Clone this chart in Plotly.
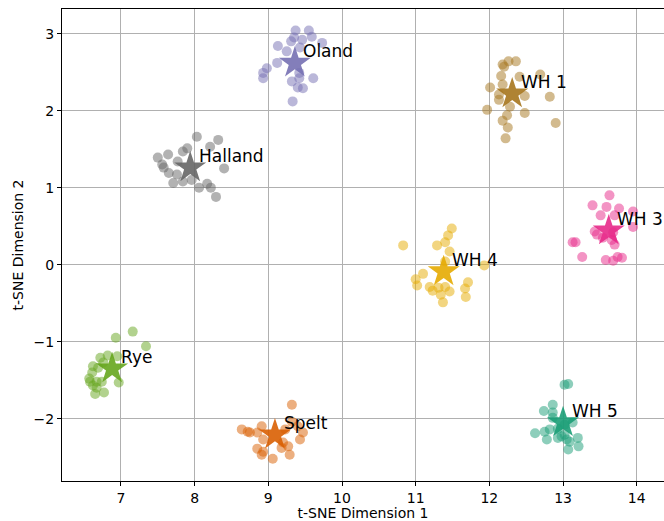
import plotly.graph_objects as go

groups = ["Oland", "WH 1", "Halland", "WH 3", "WH 4", "Rye", "Spelt", "WH 5"]
colors = ["#7570b3", "#a6761d", "#666666", "#e7298a", "#e6ab02", "#66a61e", "#d95f02", "#1b9e77"]

oland_x = [9.37, 9.55, 9.35, 9.46, 9.59, 9.31, 9.73, 9.13, 9.25, 9.43, 9.12, 8.98, 8.93, 8.93, 9.32, 9.42, 9.61, 9.40, 9.47, 9.33, 9.42]
oland_y = [3.04, 3.04, 2.95, 2.92, 2.96, 2.90, 2.88, 2.84, 2.77, 2.82, 2.62, 2.55, 2.49, 2.42, 2.38, 2.42, 2.42, 2.30, 2.29, 2.12, 2.49]

wh1_x = [12.18, 12.26, 12.36, 12.20, 12.16, 12.41, 12.69, 12.18, 12.01, 12.13, 12.13, 12.48, 12.82, 12.28, 11.97, 12.48, 12.24, 12.18, 12.90, 12.25, 12.22]
wh1_y = [2.60, 2.64, 2.64, 2.57, 2.45, 2.44, 2.47, 2.34, 2.30, 2.21, 2.14, 2.19, 2.18, 2.05, 2.01, 1.97, 1.94, 1.87, 1.84, 1.78, 1.64]

halland_x = [8.03, 8.32, 8.21, 7.90, 7.84, 7.64, 7.50, 7.77, 7.56, 7.58, 8.40, 7.65, 7.76, 7.71, 7.84, 7.96, 8.06, 8.17, 8.22, 8.29]
halland_y = [1.66, 1.62, 1.53, 1.51, 1.47, 1.43, 1.39, 1.34, 1.30, 1.26, 1.25, 1.19, 1.17, 1.06, 1.08, 1.10, 1.00, 1.05, 1.00, 0.88]

wh3_x = [13.63, 13.40, 13.59, 13.76, 13.51, 13.70, 13.95, 13.95, 13.43, 13.46, 13.54, 13.68, 13.66, 13.13, 13.17, 13.70, 13.26, 13.58, 13.68, 13.74, 13.80]
wh3_y = [0.90, 0.77, 0.75, 0.73, 0.64, 0.64, 0.69, 0.49, 0.43, 0.39, 0.35, 0.42, 0.32, 0.29, 0.29, 0.26, 0.10, 0.06, 0.05, 0.10, 0.09]

wh4_x = [11.49, 11.44, 11.40, 11.29, 10.83, 11.46, 11.40, 11.93, 11.10, 11.00, 11.02, 11.19, 11.23, 11.31, 11.40, 11.34, 11.46, 11.71, 11.67, 11.68, 11.37]
wh4_y = [0.47, 0.38, 0.29, 0.25, 0.25, 0.17, 0.04, -0.01, -0.12, -0.19, -0.27, -0.29, -0.34, -0.30, -0.29, -0.39, -0.35, -0.23, -0.31, -0.42, -0.49]

rye_x = [7.16, 6.93, 7.34, 6.95, 6.82, 6.72, 6.76, 6.62, 6.69, 6.61, 6.58, 6.67, 6.74, 6.97, 6.62, 6.67, 6.77, 6.65, 6.57]
rye_y = [-0.87, -0.95, -1.06, -1.19, -1.18, -1.21, -1.27, -1.32, -1.34, -1.40, -1.52, -1.52, -1.52, -1.53, -1.57, -1.60, -1.66, -1.68, -1.48]

spelt_x = [9.32, 9.32, 9.40, 8.64, 8.72, 8.75, 8.85, 8.91, 9.23, 9.47, 8.93, 9.43, 9.20, 9.27, 9.18, 8.85, 8.93, 8.91, 9.29, 9.06]
spelt_y = [-1.82, -2.04, -2.10, -2.14, -2.17, -2.18, -2.18, -2.10, -2.14, -2.18, -2.27, -2.27, -2.31, -2.36, -2.38, -2.39, -2.43, -2.47, -2.47, -2.52]

wh5_x = [13.02, 13.07, 12.86, 12.74, 12.86, 12.86, 13.13, 13.02, 12.62, 12.75, 12.82, 12.93, 12.78, 12.93, 13.02, 13.05, 13.09, 13.20, 13.21, 13.07, 12.98]
wh5_y = [-1.56, -1.55, -1.82, -1.90, -1.92, -1.99, -2.05, -2.08, -2.19, -2.17, -2.14, -2.13, -2.27, -2.25, -2.21, -2.27, -2.30, -2.25, -2.36, -2.40, -2.23]

centroid_x = [9.36, 12.31, 7.94, 13.62, 11.38, 6.88, 9.09, 13.00]
centroid_y = [2.62, 2.22, 1.26, 0.44, -0.09, -1.35, -2.21, -2.05]

xs = [oland_x, wh1_x, halland_x, wh3_x, wh4_x, rye_x, spelt_x, wh5_x]
ys = [oland_y, wh1_y, halland_y, wh3_y, wh4_y, rye_y, spelt_y, wh5_y]

fig = go.Figure()
for name, c, x, y in zip(groups, colors, xs, ys):
    fig.add_trace(go.Scatter(x=x, y=y, mode="markers", name=name,
                             marker=dict(size=10, color=c, opacity=0.5, line=dict(width=0)),
                             showlegend=False))
for name, c, cx, cy in zip(groups, colors, centroid_x, centroid_y):
    fig.add_trace(go.Scatter(x=[cx], y=[cy], mode="markers",
                             marker=dict(symbol="star", size=24, color=c, opacity=0.9,
                                         line=dict(width=0)),
                             showlegend=False))
    fig.add_annotation(x=cx + 0.09, y=cy + 0.15, text=name, showarrow=False,
                       xanchor="left", yanchor="middle",
                       font=dict(family="DejaVu Sans", size=17, color="black"))

axis_common = dict(showgrid=True, gridcolor="#b0b0b0", gridwidth=1,
                   showline=True, linecolor="black", linewidth=1, mirror=True,
                   ticks="outside", ticklen=4, tickcolor="black",
                   tickfont=dict(family="DejaVu Sans", size=14, color="black"),
                   zeroline=False)

fig.update_xaxes(range=[6.2, 14.37], dtick=1,
                 title=dict(text="t-SNE Dimension 1", font=dict(family="DejaVu Sans", size=14, color="black"), standoff=4),
                 **axis_common)
fig.update_yaxes(range=[-2.81, 3.32], dtick=1,
                 title=dict(text="t-SNE Dimension 2", font=dict(family="DejaVu Sans", size=14, color="black"), standoff=6),
                 **axis_common)

fig.update_layout(width=664, height=521, margin=dict(l=62, r=0, t=9, b=40, autoexpand=False),
                  plot_bgcolor="white", paper_bgcolor="white", hovermode=False)

fig.write_html("out.html", config={"displayModeBar": False, "staticPlot": True},
               post_script="document.body.style.margin='0';document.body.style.overflow='hidden';")
